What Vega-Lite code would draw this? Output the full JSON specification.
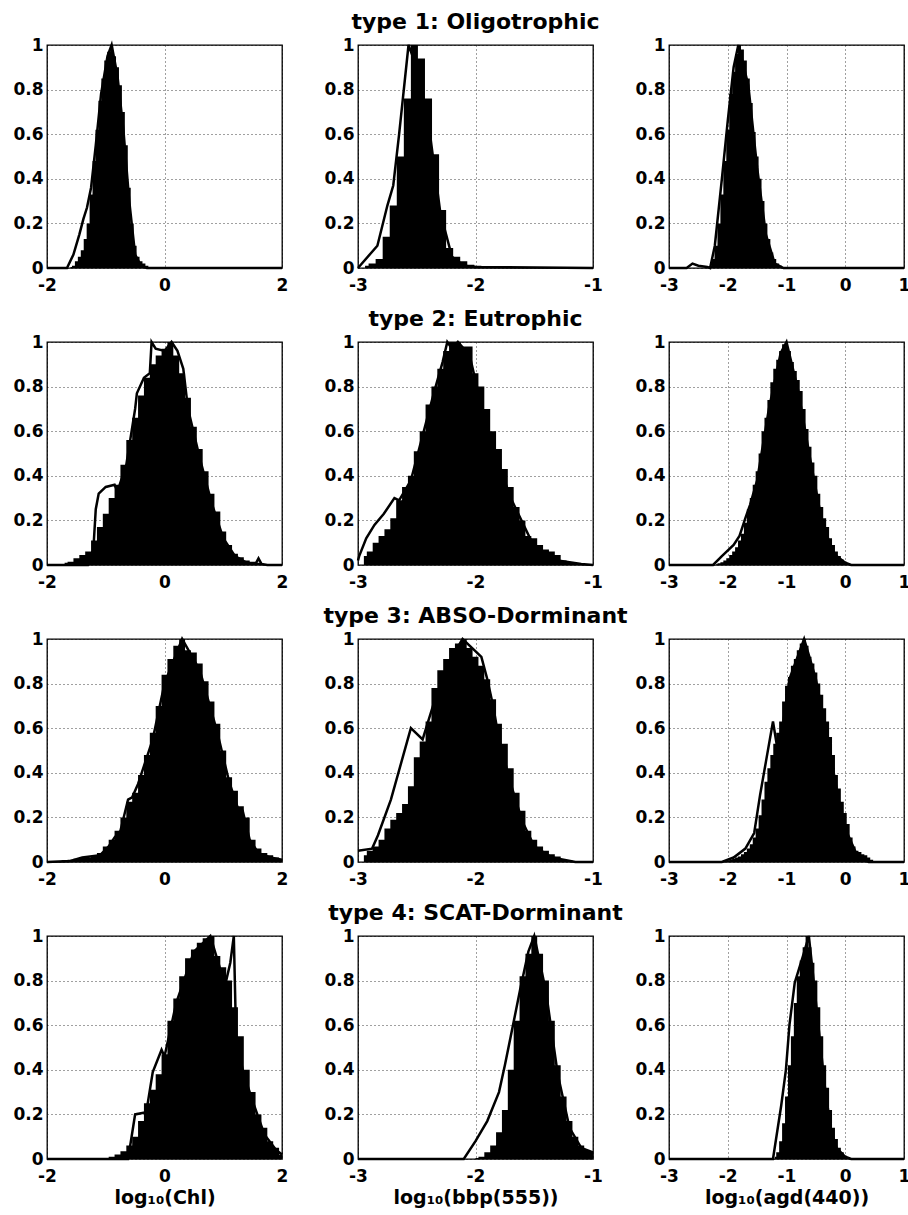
{
"$schema": "https://vega.github.io/schema/vega-lite/v6.json",
"background": "white",
"padding": {"left": 12, "top": 10, "right": 0, "bottom": 0},
"config": {
 "view": {"stroke": "black", "strokeWidth": 1.3},
 "font": "DejaVu Sans",
 "axis": {"grid": true, "gridColor": "black", "gridDash": [1, 3], "gridWidth": 1, "gridOpacity": 0.75, "domain": false, "ticks": false, "labelFont": "DejaVu Sans", "labelFontWeight": "bold", "labelFontSize": 17, "labelColor": "black", "labelFlush": false, "labelOverlap": false, "labelExpr": "'' + datum.value", "titleFont": "DejaVu Sans", "titleFontWeight": "bold", "titleFontSize": 19, "titleColor": "black"},
 "axisX": {"labelPadding": 9, "titlePadding": 4},
 "axisY": {"labelPadding": 4},
 "title": {"font": "DejaVu Sans", "fontWeight": "bold", "fontSize": 22, "color": "black", "offset": 2}
},
"datasets": {
"hist": [
{"p":"11","x":-1.60,"h":0.005},{"p":"11","x":-1.55,"h":0.01},{"p":"11","x":-1.50,"h":0.03},{"p":"11","x":-1.45,"h":0.05},{"p":"11","x":-1.40,"h":0.08},{"p":"11","x":-1.35,"h":0.13},{"p":"11","x":-1.30,"h":0.20},{"p":"11","x":-1.25,"h":0.33},{"p":"11","x":-1.20,"h":0.48},{"p":"11","x":-1.15,"h":0.62},{"p":"11","x":-1.10,"h":0.75},{"p":"11","x":-1.05,"h":0.85},{"p":"11","x":-1.00,"h":0.93},{"p":"11","x":-0.95,"h":0.97},{"p":"11","x":-0.90,"h":1.00},{"p":"11","x":-0.85,"h":0.95},{"p":"11","x":-0.80,"h":0.90},{"p":"11","x":-0.75,"h":0.82},{"p":"11","x":-0.70,"h":0.70},{"p":"11","x":-0.65,"h":0.55},{"p":"11","x":-0.60,"h":0.36},{"p":"11","x":-0.55,"h":0.20},{"p":"11","x":-0.50,"h":0.10},{"p":"11","x":-0.45,"h":0.05},{"p":"11","x":-0.40,"h":0.03},{"p":"11","x":-0.35,"h":0.02},{"p":"11","x":-0.30,"h":0.01},{"p":"11","x":-0.25,"h":0.005},{"p":"11","x":-0.20,"h":0.002},
{"p":"12","x":-2.94,"h":0.01},{"p":"12","x":-2.88,"h":0.02},{"p":"12","x":-2.82,"h":0.04},{"p":"12","x":-2.76,"h":0.14},{"p":"12","x":-2.70,"h":0.28},{"p":"12","x":-2.64,"h":0.50},{"p":"12","x":-2.58,"h":0.76},{"p":"12","x":-2.52,"h":1.00},{"p":"12","x":-2.46,"h":0.94},{"p":"12","x":-2.40,"h":0.76},{"p":"12","x":-2.34,"h":0.51},{"p":"12","x":-2.28,"h":0.26},{"p":"12","x":-2.22,"h":0.09},{"p":"12","x":-2.16,"h":0.05},{"p":"12","x":-2.10,"h":0.03},{"p":"12","x":-2.04,"h":0.015},{"p":"12","x":-1.98,"h":0.01},{"p":"12","x":-1.92,"h":0.008},{"p":"12","x":-1.86,"h":0.006},{"p":"12","x":-1.80,"h":0.005},{"p":"12","x":-1.50,"h":0.004},{"p":"12","x":-1.20,"h":0.004},{"p":"12","x":-1.02,"h":0.003},
{"p":"13","x":-2.30,"h":0.01},{"p":"13","x":-2.25,"h":0.04},{"p":"13","x":-2.20,"h":0.10},{"p":"13","x":-2.15,"h":0.20},{"p":"13","x":-2.10,"h":0.33},{"p":"13","x":-2.05,"h":0.48},{"p":"13","x":-2.00,"h":0.62},{"p":"13","x":-1.95,"h":0.78},{"p":"13","x":-1.90,"h":0.88},{"p":"13","x":-1.85,"h":0.96},{"p":"13","x":-1.80,"h":1.00},{"p":"13","x":-1.75,"h":0.98},{"p":"13","x":-1.70,"h":0.93},{"p":"13","x":-1.65,"h":0.85},{"p":"13","x":-1.60,"h":0.74},{"p":"13","x":-1.55,"h":0.61},{"p":"13","x":-1.50,"h":0.50},{"p":"13","x":-1.45,"h":0.40},{"p":"13","x":-1.40,"h":0.30},{"p":"13","x":-1.35,"h":0.20},{"p":"13","x":-1.30,"h":0.13},{"p":"13","x":-1.25,"h":0.07},{"p":"13","x":-1.20,"h":0.04},{"p":"13","x":-1.15,"h":0.02},{"p":"13","x":-1.10,"h":0.01},{"p":"13","x":-1.05,"h":0.005},{"p":"13","x":-1.00,"h":0.003},
{"p":"21","x":-1.7,"h":0.01},{"p":"21","x":-1.6,"h":0.015},{"p":"21","x":-1.5,"h":0.03},{"p":"21","x":-1.4,"h":0.045},{"p":"21","x":-1.3,"h":0.06},{"p":"21","x":-1.2,"h":0.11},{"p":"21","x":-1.1,"h":0.17},{"p":"21","x":-1.0,"h":0.23},{"p":"21","x":-0.9,"h":0.30},{"p":"21","x":-0.8,"h":0.36},{"p":"21","x":-0.7,"h":0.45},{"p":"21","x":-0.6,"h":0.56},{"p":"21","x":-0.5,"h":0.66},{"p":"21","x":-0.4,"h":0.76},{"p":"21","x":-0.3,"h":0.84},{"p":"21","x":-0.2,"h":0.90},{"p":"21","x":-0.1,"h":0.94},{"p":"21","x":0.0,"h":0.97},{"p":"21","x":0.1,"h":1.00},{"p":"21","x":0.2,"h":0.94},{"p":"21","x":0.3,"h":0.86},{"p":"21","x":0.4,"h":0.75},{"p":"21","x":0.5,"h":0.62},{"p":"21","x":0.6,"h":0.52},{"p":"21","x":0.7,"h":0.42},{"p":"21","x":0.8,"h":0.32},{"p":"21","x":0.9,"h":0.24},{"p":"21","x":1.0,"h":0.15},{"p":"21","x":1.1,"h":0.09},{"p":"21","x":1.2,"h":0.05},{"p":"21","x":1.3,"h":0.035},{"p":"21","x":1.4,"h":0.02},{"p":"21","x":1.5,"h":0.015},{"p":"21","x":1.6,"h":0.01},{"p":"21","x":1.7,"h":0.005},{"p":"21","x":1.8,"h":0.003},
{"p":"22","x":-2.95,"h":0.04},{"p":"22","x":-2.90,"h":0.06},{"p":"22","x":-2.85,"h":0.10},{"p":"22","x":-2.80,"h":0.13},{"p":"22","x":-2.75,"h":0.16},{"p":"22","x":-2.70,"h":0.21},{"p":"22","x":-2.65,"h":0.29},{"p":"22","x":-2.60,"h":0.35},{"p":"22","x":-2.55,"h":0.40},{"p":"22","x":-2.50,"h":0.51},{"p":"22","x":-2.45,"h":0.60},{"p":"22","x":-2.40,"h":0.72},{"p":"22","x":-2.35,"h":0.80},{"p":"22","x":-2.30,"h":0.88},{"p":"22","x":-2.25,"h":0.96},{"p":"22","x":-2.20,"h":1.00},{"p":"22","x":-2.15,"h":1.00},{"p":"22","x":-2.10,"h":0.98},{"p":"22","x":-2.05,"h":0.98},{"p":"22","x":-2.00,"h":0.86},{"p":"22","x":-1.95,"h":0.80},{"p":"22","x":-1.90,"h":0.70},{"p":"22","x":-1.85,"h":0.60},{"p":"22","x":-1.80,"h":0.52},{"p":"22","x":-1.75,"h":0.43},{"p":"22","x":-1.70,"h":0.35},{"p":"22","x":-1.65,"h":0.26},{"p":"22","x":-1.60,"h":0.20},{"p":"22","x":-1.55,"h":0.13},{"p":"22","x":-1.50,"h":0.12},{"p":"22","x":-1.45,"h":0.09},{"p":"22","x":-1.40,"h":0.07},{"p":"22","x":-1.35,"h":0.06},{"p":"22","x":-1.30,"h":0.045},{"p":"22","x":-1.25,"h":0.02},{"p":"22","x":-1.20,"h":0.01},{"p":"22","x":-1.15,"h":0.005},{"p":"22","x":-1.10,"h":0.005},{"p":"22","x":-1.05,"h":0.003},
{"p":"23","x":-2.20,"h":0.003},{"p":"23","x":-2.15,"h":0.008},{"p":"23","x":-2.10,"h":0.012},{"p":"23","x":-2.05,"h":0.02},{"p":"23","x":-2.00,"h":0.03},{"p":"23","x":-1.95,"h":0.045},{"p":"23","x":-1.90,"h":0.06},{"p":"23","x":-1.85,"h":0.08},{"p":"23","x":-1.80,"h":0.11},{"p":"23","x":-1.75,"h":0.14},{"p":"23","x":-1.70,"h":0.19},{"p":"23","x":-1.65,"h":0.25},{"p":"23","x":-1.60,"h":0.30},{"p":"23","x":-1.55,"h":0.36},{"p":"23","x":-1.50,"h":0.42},{"p":"23","x":-1.45,"h":0.50},{"p":"23","x":-1.40,"h":0.60},{"p":"23","x":-1.35,"h":0.66},{"p":"23","x":-1.30,"h":0.74},{"p":"23","x":-1.25,"h":0.82},{"p":"23","x":-1.20,"h":0.88},{"p":"23","x":-1.15,"h":0.92},{"p":"23","x":-1.10,"h":0.96},{"p":"23","x":-1.05,"h":0.99},{"p":"23","x":-1.00,"h":1.00},{"p":"23","x":-0.95,"h":0.96},{"p":"23","x":-0.90,"h":0.91},{"p":"23","x":-0.85,"h":0.87},{"p":"23","x":-0.80,"h":0.83},{"p":"23","x":-0.75,"h":0.78},{"p":"23","x":-0.70,"h":0.70},{"p":"23","x":-0.65,"h":0.61},{"p":"23","x":-0.60,"h":0.53},{"p":"23","x":-0.55,"h":0.46},{"p":"23","x":-0.50,"h":0.40},{"p":"23","x":-0.45,"h":0.32},{"p":"23","x":-0.40,"h":0.26},{"p":"23","x":-0.35,"h":0.21},{"p":"23","x":-0.30,"h":0.17},{"p":"23","x":-0.25,"h":0.12},{"p":"23","x":-0.20,"h":0.09},{"p":"23","x":-0.15,"h":0.06},{"p":"23","x":-0.10,"h":0.04},{"p":"23","x":-0.05,"h":0.025},{"p":"23","x":0.00,"h":0.015},{"p":"23","x":0.05,"h":0.008},{"p":"23","x":0.10,"h":0.004},{"p":"23","x":0.15,"h":0.002},
{"p":"31","x":-1.9,"h":0.005},{"p":"31","x":-1.8,"h":0.005},{"p":"31","x":-1.7,"h":0.008},{"p":"31","x":-1.6,"h":0.01},{"p":"31","x":-1.5,"h":0.015},{"p":"31","x":-1.4,"h":0.02},{"p":"31","x":-1.3,"h":0.02},{"p":"31","x":-1.2,"h":0.025},{"p":"31","x":-1.1,"h":0.04},{"p":"31","x":-1.0,"h":0.07},{"p":"31","x":-0.9,"h":0.10},{"p":"31","x":-0.8,"h":0.14},{"p":"31","x":-0.7,"h":0.20},{"p":"31","x":-0.6,"h":0.27},{"p":"31","x":-0.5,"h":0.31},{"p":"31","x":-0.4,"h":0.39},{"p":"31","x":-0.3,"h":0.48},{"p":"31","x":-0.2,"h":0.58},{"p":"31","x":-0.1,"h":0.70},{"p":"31","x":0.0,"h":0.84},{"p":"31","x":0.1,"h":0.91},{"p":"31","x":0.2,"h":0.97},{"p":"31","x":0.3,"h":1.00},{"p":"31","x":0.4,"h":0.95},{"p":"31","x":0.5,"h":0.94},{"p":"31","x":0.6,"h":0.89},{"p":"31","x":0.7,"h":0.81},{"p":"31","x":0.8,"h":0.72},{"p":"31","x":0.9,"h":0.62},{"p":"31","x":1.0,"h":0.50},{"p":"31","x":1.1,"h":0.38},{"p":"31","x":1.2,"h":0.32},{"p":"31","x":1.3,"h":0.25},{"p":"31","x":1.4,"h":0.20},{"p":"31","x":1.5,"h":0.10},{"p":"31","x":1.6,"h":0.06},{"p":"31","x":1.7,"h":0.04},{"p":"31","x":1.8,"h":0.03},{"p":"31","x":1.9,"h":0.02},{"p":"31","x":2.0,"h":0.01},
{"p":"32","x":-2.95,"h":0.03},{"p":"32","x":-2.90,"h":0.05},{"p":"32","x":-2.85,"h":0.07},{"p":"32","x":-2.80,"h":0.10},{"p":"32","x":-2.75,"h":0.15},{"p":"32","x":-2.70,"h":0.19},{"p":"32","x":-2.65,"h":0.22},{"p":"32","x":-2.60,"h":0.26},{"p":"32","x":-2.55,"h":0.34},{"p":"32","x":-2.50,"h":0.47},{"p":"32","x":-2.45,"h":0.54},{"p":"32","x":-2.40,"h":0.63},{"p":"32","x":-2.35,"h":0.78},{"p":"32","x":-2.30,"h":0.86},{"p":"32","x":-2.25,"h":0.91},{"p":"32","x":-2.20,"h":0.96},{"p":"32","x":-2.15,"h":0.98},{"p":"32","x":-2.10,"h":1.00},{"p":"32","x":-2.05,"h":0.96},{"p":"32","x":-2.00,"h":0.92},{"p":"32","x":-1.95,"h":0.88},{"p":"32","x":-1.90,"h":0.82},{"p":"32","x":-1.85,"h":0.73},{"p":"32","x":-1.80,"h":0.62},{"p":"32","x":-1.75,"h":0.53},{"p":"32","x":-1.70,"h":0.42},{"p":"32","x":-1.65,"h":0.31},{"p":"32","x":-1.60,"h":0.23},{"p":"32","x":-1.55,"h":0.14},{"p":"32","x":-1.50,"h":0.10},{"p":"32","x":-1.45,"h":0.07},{"p":"32","x":-1.40,"h":0.05},{"p":"32","x":-1.35,"h":0.035},{"p":"32","x":-1.30,"h":0.025},{"p":"32","x":-1.25,"h":0.012},{"p":"32","x":-1.20,"h":0.008},{"p":"32","x":-1.15,"h":0.005},{"p":"32","x":-1.10,"h":0.003},
{"p":"33","x":-2.05,"h":0.003},{"p":"33","x":-2.00,"h":0.006},{"p":"33","x":-1.95,"h":0.01},{"p":"33","x":-1.90,"h":0.015},{"p":"33","x":-1.85,"h":0.02},{"p":"33","x":-1.80,"h":0.025},{"p":"33","x":-1.75,"h":0.035},{"p":"33","x":-1.70,"h":0.045},{"p":"33","x":-1.65,"h":0.06},{"p":"33","x":-1.60,"h":0.08},{"p":"33","x":-1.55,"h":0.11},{"p":"33","x":-1.50,"h":0.15},{"p":"33","x":-1.45,"h":0.21},{"p":"33","x":-1.40,"h":0.28},{"p":"33","x":-1.35,"h":0.36},{"p":"33","x":-1.30,"h":0.42},{"p":"33","x":-1.25,"h":0.48},{"p":"33","x":-1.20,"h":0.53},{"p":"33","x":-1.15,"h":0.58},{"p":"33","x":-1.10,"h":0.63},{"p":"33","x":-1.05,"h":0.72},{"p":"33","x":-1.00,"h":0.79},{"p":"33","x":-0.95,"h":0.83},{"p":"33","x":-0.90,"h":0.88},{"p":"33","x":-0.85,"h":0.91},{"p":"33","x":-0.80,"h":0.95},{"p":"33","x":-0.75,"h":0.98},{"p":"33","x":-0.70,"h":1.00},{"p":"33","x":-0.65,"h":0.97},{"p":"33","x":-0.60,"h":0.92},{"p":"33","x":-0.55,"h":0.89},{"p":"33","x":-0.50,"h":0.85},{"p":"33","x":-0.45,"h":0.80},{"p":"33","x":-0.40,"h":0.75},{"p":"33","x":-0.35,"h":0.69},{"p":"33","x":-0.30,"h":0.63},{"p":"33","x":-0.25,"h":0.56},{"p":"33","x":-0.20,"h":0.48},{"p":"33","x":-0.15,"h":0.39},{"p":"33","x":-0.10,"h":0.33},{"p":"33","x":-0.05,"h":0.27},{"p":"33","x":0.00,"h":0.22},{"p":"33","x":0.05,"h":0.17},{"p":"33","x":0.10,"h":0.11},{"p":"33","x":0.15,"h":0.07},{"p":"33","x":0.20,"h":0.05},{"p":"33","x":0.25,"h":0.045},{"p":"33","x":0.30,"h":0.035},{"p":"33","x":0.35,"h":0.03},{"p":"33","x":0.40,"h":0.02},{"p":"33","x":0.45,"h":0.01},{"p":"33","x":0.50,"h":0.005},
{"p":"41","x":-1.0,"h":0.005},{"p":"41","x":-0.9,"h":0.01},{"p":"41","x":-0.8,"h":0.02},{"p":"41","x":-0.7,"h":0.035},{"p":"41","x":-0.6,"h":0.06},{"p":"41","x":-0.5,"h":0.10},{"p":"41","x":-0.4,"h":0.17},{"p":"41","x":-0.3,"h":0.25},{"p":"41","x":-0.2,"h":0.31},{"p":"41","x":-0.1,"h":0.38},{"p":"41","x":0.0,"h":0.47},{"p":"41","x":0.1,"h":0.62},{"p":"41","x":0.2,"h":0.72},{"p":"41","x":0.3,"h":0.82},{"p":"41","x":0.4,"h":0.90},{"p":"41","x":0.5,"h":0.94},{"p":"41","x":0.6,"h":0.97},{"p":"41","x":0.7,"h":0.99},{"p":"41","x":0.8,"h":1.00},{"p":"41","x":0.9,"h":0.91},{"p":"41","x":1.0,"h":0.86},{"p":"41","x":1.1,"h":0.80},{"p":"41","x":1.2,"h":0.68},{"p":"41","x":1.3,"h":0.55},{"p":"41","x":1.4,"h":0.40},{"p":"41","x":1.5,"h":0.30},{"p":"41","x":1.6,"h":0.20},{"p":"41","x":1.7,"h":0.14},{"p":"41","x":1.8,"h":0.08},{"p":"41","x":1.9,"h":0.05},{"p":"41","x":2.0,"h":0.02},
{"p":"42","x":-2.00,"h":0.005},{"p":"42","x":-1.95,"h":0.01},{"p":"42","x":-1.90,"h":0.03},{"p":"42","x":-1.85,"h":0.06},{"p":"42","x":-1.80,"h":0.12},{"p":"42","x":-1.75,"h":0.22},{"p":"42","x":-1.70,"h":0.40},{"p":"42","x":-1.65,"h":0.62},{"p":"42","x":-1.60,"h":0.82},{"p":"42","x":-1.55,"h":0.92},{"p":"42","x":-1.50,"h":1.00},{"p":"42","x":-1.45,"h":0.92},{"p":"42","x":-1.40,"h":0.80},{"p":"42","x":-1.35,"h":0.62},{"p":"42","x":-1.30,"h":0.42},{"p":"42","x":-1.25,"h":0.28},{"p":"42","x":-1.20,"h":0.17},{"p":"42","x":-1.15,"h":0.10},{"p":"42","x":-1.10,"h":0.06},{"p":"42","x":-1.05,"h":0.04},{"p":"42","x":-1.00,"h":0.035},
{"p":"43","x":-1.20,"h":0.01},{"p":"43","x":-1.15,"h":0.03},{"p":"43","x":-1.10,"h":0.08},{"p":"43","x":-1.05,"h":0.16},{"p":"43","x":-1.00,"h":0.28},{"p":"43","x":-0.95,"h":0.42},{"p":"43","x":-0.90,"h":0.55},{"p":"43","x":-0.85,"h":0.70},{"p":"43","x":-0.80,"h":0.82},{"p":"43","x":-0.75,"h":0.89},{"p":"43","x":-0.70,"h":0.95},{"p":"43","x":-0.65,"h":1.00},{"p":"43","x":-0.60,"h":0.95},{"p":"43","x":-0.55,"h":0.88},{"p":"43","x":-0.50,"h":0.80},{"p":"43","x":-0.45,"h":0.68},{"p":"43","x":-0.40,"h":0.55},{"p":"43","x":-0.35,"h":0.42},{"p":"43","x":-0.30,"h":0.32},{"p":"43","x":-0.25,"h":0.22},{"p":"43","x":-0.20,"h":0.14},{"p":"43","x":-0.15,"h":0.09},{"p":"43","x":-0.10,"h":0.05},{"p":"43","x":-0.05,"h":0.03},{"p":"43","x":0.00,"h":0.015},{"p":"43","x":0.05,"h":0.005}
],
"line": [
{"p":"11","x":-2,"y":0},{"p":"11","x":-1.66,"y":0},{"p":"11","x":-1.55,"y":0.06},{"p":"11","x":-1.45,"y":0.15},{"p":"11","x":-1.38,"y":0.22},{"p":"11","x":-1.32,"y":0.27},{"p":"11","x":-1.25,"y":0.36},{"p":"11","x":-1.17,"y":0.55},{"p":"11","x":-1.08,"y":0.78},{"p":"11","x":-0.97,"y":0.95},{"p":"11","x":-0.9,"y":1.0},{"p":"11","x":-0.8,"y":0.86},{"p":"11","x":-0.7,"y":0.62},{"p":"11","x":-0.6,"y":0.3},{"p":"11","x":-0.5,"y":0.06},{"p":"11","x":-0.4,"y":0.01},{"p":"11","x":-0.3,"y":0},{"p":"11","x":2,"y":0},
{"p":"12","x":-3,"y":0},{"p":"12","x":-2.835,"y":0.10},{"p":"12","x":-2.75,"y":0.28},{"p":"12","x":-2.70,"y":0.37},{"p":"12","x":-2.65,"y":0.6},{"p":"12","x":-2.57,"y":1.0},{"p":"12","x":-2.5,"y":0.9},{"p":"12","x":-2.4,"y":0.65},{"p":"12","x":-2.3,"y":0.25},{"p":"12","x":-2.2,"y":0.05},{"p":"12","x":-2.1,"y":0.01},{"p":"12","x":-2.0,"y":0.005},{"p":"12","x":-1,"y":0},
{"p":"13","x":-3,"y":0},{"p":"13","x":-2.7,"y":0},{"p":"13","x":-2.6,"y":0.02},{"p":"13","x":-2.5,"y":0.01},{"p":"13","x":-2.35,"y":0.005},{"p":"13","x":-2.30,"y":0},{"p":"13","x":-2.22,"y":0.10},{"p":"13","x":-2.10,"y":0.40},{"p":"13","x":-2.00,"y":0.66},{"p":"13","x":-1.90,"y":0.90},{"p":"13","x":-1.82,"y":1.0},{"p":"13","x":-1.65,"y":0.82},{"p":"13","x":-1.5,"y":0.45},{"p":"13","x":-1.35,"y":0.15},{"p":"13","x":-1.2,"y":0.02},{"p":"13","x":-1.05,"y":0},{"p":"13","x":1,"y":0},
{"p":"21","x":-2,"y":0},{"p":"21","x":-1.3,"y":0},{"p":"21","x":-1.22,"y":0.03},{"p":"21","x":-1.17,"y":0.25},{"p":"21","x":-1.12,"y":0.32},{"p":"21","x":-1.0,"y":0.35},{"p":"21","x":-0.85,"y":0.36},{"p":"21","x":-0.8,"y":0.33},{"p":"21","x":-0.65,"y":0.45},{"p":"21","x":-0.5,"y":0.70},{"p":"21","x":-0.47,"y":0.77},{"p":"21","x":-0.35,"y":0.84},{"p":"21","x":-0.25,"y":0.86},{"p":"21","x":-0.22,"y":1.0},{"p":"21","x":-0.15,"y":0.97},{"p":"21","x":0.0,"y":0.96},{"p":"21","x":0.12,"y":1.0},{"p":"21","x":0.22,"y":0.96},{"p":"21","x":0.32,"y":0.88},{"p":"21","x":0.4,"y":0.70},{"p":"21","x":0.6,"y":0.48},{"p":"21","x":0.8,"y":0.28},{"p":"21","x":1.0,"y":0.12},{"p":"21","x":1.2,"y":0.04},{"p":"21","x":1.4,"y":0.01},{"p":"21","x":1.55,"y":0.005},{"p":"21","x":1.6,"y":0.03},{"p":"21","x":1.65,"y":0.005},{"p":"21","x":1.75,"y":0},{"p":"21","x":2,"y":0},
{"p":"22","x":-3,"y":0.02},{"p":"22","x":-2.99,"y":0.04},{"p":"22","x":-2.93,"y":0.12},{"p":"22","x":-2.86,"y":0.18},{"p":"22","x":-2.78,"y":0.23},{"p":"22","x":-2.69,"y":0.30},{"p":"22","x":-2.65,"y":0.29},{"p":"22","x":-2.55,"y":0.38},{"p":"22","x":-2.45,"y":0.58},{"p":"22","x":-2.35,"y":0.78},{"p":"22","x":-2.28,"y":0.91},{"p":"22","x":-2.24,"y":1.0},{"p":"22","x":-2.2,"y":0.97},{"p":"22","x":-2.15,"y":1.0},{"p":"22","x":-2.05,"y":0.94},{"p":"22","x":-1.9,"y":0.6},{"p":"22","x":-1.7,"y":0.3},{"p":"22","x":-1.5,"y":0.08},{"p":"22","x":-1.3,"y":0.02},{"p":"22","x":-1.1,"y":0.005},{"p":"22","x":-1,"y":0},
{"p":"23","x":-3,"y":0},{"p":"23","x":-2.25,"y":0},{"p":"23","x":-2.1,"y":0.04},{"p":"23","x":-1.9,"y":0.09},{"p":"23","x":-1.8,"y":0.13},{"p":"23","x":-1.7,"y":0.21},{"p":"23","x":-1.62,"y":0.27},{"p":"23","x":-1.5,"y":0.38},{"p":"23","x":-1.3,"y":0.7},{"p":"23","x":-1.1,"y":0.95},{"p":"23","x":-1.0,"y":1.0},{"p":"23","x":-0.8,"y":0.78},{"p":"23","x":-0.6,"y":0.48},{"p":"23","x":-0.4,"y":0.2},{"p":"23","x":-0.2,"y":0.05},{"p":"23","x":0,"y":0.01},{"p":"23","x":0.1,"y":0},{"p":"23","x":1,"y":0},
{"p":"31","x":-2,"y":0},{"p":"31","x":-1.6,"y":0.005},{"p":"31","x":-1.4,"y":0.02},{"p":"31","x":-1.1,"y":0.03},{"p":"31","x":-0.95,"y":0.07},{"p":"31","x":-0.85,"y":0.11},{"p":"31","x":-0.75,"y":0.14},{"p":"31","x":-0.62,"y":0.28},{"p":"31","x":-0.55,"y":0.29},{"p":"31","x":-0.45,"y":0.35},{"p":"31","x":-0.2,"y":0.55},{"p":"31","x":0.0,"y":0.8},{"p":"31","x":0.3,"y":1.0},{"p":"31","x":0.6,"y":0.86},{"p":"31","x":0.9,"y":0.58},{"p":"31","x":1.1,"y":0.36},{"p":"31","x":1.25,"y":0.24},{"p":"31","x":1.33,"y":0.23},{"p":"31","x":1.45,"y":0.10},{"p":"31","x":1.6,"y":0.04},{"p":"31","x":1.8,"y":0.02},{"p":"31","x":2,"y":0.01},
{"p":"32","x":-3,"y":0.05},{"p":"32","x":-2.88,"y":0.06},{"p":"32","x":-2.83,"y":0.12},{"p":"32","x":-2.72,"y":0.28},{"p":"32","x":-2.55,"y":0.60},{"p":"32","x":-2.45,"y":0.55},{"p":"32","x":-2.35,"y":0.72},{"p":"32","x":-2.2,"y":0.92},{"p":"32","x":-2.11,"y":1.0},{"p":"32","x":-2.01,"y":0.95},{"p":"32","x":-1.95,"y":0.92},{"p":"32","x":-1.9,"y":0.82},{"p":"32","x":-1.85,"y":0.70},{"p":"32","x":-1.8,"y":0.55},{"p":"32","x":-1.7,"y":0.35},{"p":"32","x":-1.6,"y":0.18},{"p":"32","x":-1.5,"y":0.07},{"p":"32","x":-1.35,"y":0.02},{"p":"32","x":-1.15,"y":0},{"p":"32","x":-1,"y":0},
{"p":"33","x":-3,"y":0},{"p":"33","x":-2.1,"y":0},{"p":"33","x":-1.9,"y":0.02},{"p":"33","x":-1.7,"y":0.06},{"p":"33","x":-1.55,"y":0.13},{"p":"33","x":-1.45,"y":0.30},{"p":"33","x":-1.35,"y":0.45},{"p":"33","x":-1.23,"y":0.63},{"p":"33","x":-1.15,"y":0.50},{"p":"33","x":-1.08,"y":0.58},{"p":"33","x":-0.95,"y":0.82},{"p":"33","x":-0.7,"y":1.0},{"p":"33","x":-0.5,"y":0.82},{"p":"33","x":-0.3,"y":0.55},{"p":"33","x":-0.1,"y":0.26},{"p":"33","x":0.0,"y":0.15},{"p":"33","x":0.2,"y":0.03},{"p":"33","x":0.4,"y":0},{"p":"33","x":1,"y":0},
{"p":"41","x":-2,"y":0},{"p":"41","x":-0.62,"y":0},{"p":"41","x":-0.56,"y":0.10},{"p":"41","x":-0.50,"y":0.20},{"p":"41","x":-0.31,"y":0.21},{"p":"41","x":-0.20,"y":0.39},{"p":"41","x":-0.05,"y":0.49},{"p":"41","x":0.0,"y":0.46},{"p":"41","x":0.2,"y":0.7},{"p":"41","x":0.5,"y":0.93},{"p":"41","x":0.78,"y":1.0},{"p":"41","x":0.95,"y":0.85},{"p":"41","x":1.05,"y":0.80},{"p":"41","x":1.12,"y":0.88},{"p":"41","x":1.18,"y":1.0},{"p":"41","x":1.22,"y":0.53},{"p":"41","x":1.35,"y":0.38},{"p":"41","x":1.5,"y":0.26},{"p":"41","x":1.7,"y":0.11},{"p":"41","x":1.9,"y":0.04},{"p":"41","x":2,"y":0.02},
{"p":"42","x":-3,"y":0},{"p":"42","x":-2.10,"y":0},{"p":"42","x":-2.0,"y":0.08},{"p":"42","x":-1.9,"y":0.17},{"p":"42","x":-1.8,"y":0.30},{"p":"42","x":-1.75,"y":0.42},{"p":"42","x":-1.7,"y":0.55},{"p":"42","x":-1.62,"y":0.76},{"p":"42","x":-1.55,"y":0.93},{"p":"42","x":-1.5,"y":1.0},{"p":"42","x":-1.4,"y":0.75},{"p":"42","x":-1.3,"y":0.38},{"p":"42","x":-1.2,"y":0.14},{"p":"42","x":-1.1,"y":0.05},{"p":"42","x":-1,"y":0.03},
{"p":"43","x":-3,"y":0},{"p":"43","x":-1.23,"y":0},{"p":"43","x":-1.09,"y":0.24},{"p":"43","x":-1.01,"y":0.40},{"p":"43","x":-0.95,"y":0.6},{"p":"43","x":-0.86,"y":0.79},{"p":"43","x":-0.72,"y":0.91},{"p":"43","x":-0.62,"y":1.0},{"p":"43","x":-0.55,"y":0.83},{"p":"43","x":-0.45,"y":0.58},{"p":"43","x":-0.35,"y":0.33},{"p":"43","x":-0.25,"y":0.14},{"p":"43","x":-0.15,"y":0.05},{"p":"43","x":0,"y":0.01},{"p":"43","x":0.1,"y":0},{"p":"43","x":1,"y":0}
]
},
"columns": 3,
"spacing": {"row": 74, "column": 76},
"bounds": "flush",
"concat": [
{"width":235,"height":223,"layer":[
 {"data":{"name":"hist"},"transform":[{"filter":"datum.p=='11'"}],"mark":{"type":"area","interpolate":"step","color":"black"},
  "encoding":{"x":{"field":"x","type":"quantitative","title":null,"scale":{"domain":[-2,2],"nice":false,"zero":false},"axis":{"values":[-2,0,2]}},
   "y":{"field":"h","type":"quantitative","title":null,"scale":{"domain":[0,1],"nice":false},"axis":{"values":[0,0.2,0.4,0.6,0.8,1]}}}},
 {"data":{"name":"line"},"transform":[{"filter":"datum.p=='11'"}],"mark":{"type":"line","color":"black","strokeWidth":2.5},
  "encoding":{"x":{"field":"x","type":"quantitative","title":null},"y":{"field":"y","type":"quantitative","title":null}}}]},
{"width":235,"height":223,"title":"type 1: Oligotrophic","layer":[
 {"data":{"name":"hist"},"transform":[{"filter":"datum.p=='12'"}],"mark":{"type":"area","interpolate":"step","color":"black"},
  "encoding":{"x":{"field":"x","type":"quantitative","title":null,"scale":{"domain":[-3,-1],"nice":false,"zero":false},"axis":{"values":[-3,-2,-1]}},
   "y":{"field":"h","type":"quantitative","title":null,"scale":{"domain":[0,1],"nice":false},"axis":{"values":[0,0.2,0.4,0.6,0.8,1]}}}},
 {"data":{"name":"line"},"transform":[{"filter":"datum.p=='12'"}],"mark":{"type":"line","color":"black","strokeWidth":2.5},
  "encoding":{"x":{"field":"x","type":"quantitative","title":null},"y":{"field":"y","type":"quantitative","title":null}}}]},
{"width":235,"height":223,"layer":[
 {"data":{"name":"hist"},"transform":[{"filter":"datum.p=='13'"}],"mark":{"type":"area","interpolate":"step","color":"black"},
  "encoding":{"x":{"field":"x","type":"quantitative","title":null,"scale":{"domain":[-3,1],"nice":false,"zero":false},"axis":{"values":[-3,-2,-1,0,1]}},
   "y":{"field":"h","type":"quantitative","title":null,"scale":{"domain":[0,1],"nice":false},"axis":{"values":[0,0.2,0.4,0.6,0.8,1]}}}},
 {"data":{"name":"line"},"transform":[{"filter":"datum.p=='13'"}],"mark":{"type":"line","color":"black","strokeWidth":2.5},
  "encoding":{"x":{"field":"x","type":"quantitative","title":null},"y":{"field":"y","type":"quantitative","title":null}}}]},
{"width":235,"height":223,"layer":[
 {"data":{"name":"hist"},"transform":[{"filter":"datum.p=='21'"}],"mark":{"type":"area","interpolate":"step","color":"black"},
  "encoding":{"x":{"field":"x","type":"quantitative","title":null,"scale":{"domain":[-2,2],"nice":false,"zero":false},"axis":{"values":[-2,0,2]}},
   "y":{"field":"h","type":"quantitative","title":null,"scale":{"domain":[0,1],"nice":false},"axis":{"values":[0,0.2,0.4,0.6,0.8,1]}}}},
 {"data":{"name":"line"},"transform":[{"filter":"datum.p=='21'"}],"mark":{"type":"line","color":"black","strokeWidth":2.5},
  "encoding":{"x":{"field":"x","type":"quantitative","title":null},"y":{"field":"y","type":"quantitative","title":null}}}]},
{"width":235,"height":223,"title":"type 2: Eutrophic","layer":[
 {"data":{"name":"hist"},"transform":[{"filter":"datum.p=='22'"}],"mark":{"type":"area","interpolate":"step","color":"black"},
  "encoding":{"x":{"field":"x","type":"quantitative","title":null,"scale":{"domain":[-3,-1],"nice":false,"zero":false},"axis":{"values":[-3,-2,-1]}},
   "y":{"field":"h","type":"quantitative","title":null,"scale":{"domain":[0,1],"nice":false},"axis":{"values":[0,0.2,0.4,0.6,0.8,1]}}}},
 {"data":{"name":"line"},"transform":[{"filter":"datum.p=='22'"}],"mark":{"type":"line","color":"black","strokeWidth":2.5},
  "encoding":{"x":{"field":"x","type":"quantitative","title":null},"y":{"field":"y","type":"quantitative","title":null}}}]},
{"width":235,"height":223,"layer":[
 {"data":{"name":"hist"},"transform":[{"filter":"datum.p=='23'"}],"mark":{"type":"area","interpolate":"step","color":"black"},
  "encoding":{"x":{"field":"x","type":"quantitative","title":null,"scale":{"domain":[-3,1],"nice":false,"zero":false},"axis":{"values":[-3,-2,-1,0,1]}},
   "y":{"field":"h","type":"quantitative","title":null,"scale":{"domain":[0,1],"nice":false},"axis":{"values":[0,0.2,0.4,0.6,0.8,1]}}}},
 {"data":{"name":"line"},"transform":[{"filter":"datum.p=='23'"}],"mark":{"type":"line","color":"black","strokeWidth":2.5},
  "encoding":{"x":{"field":"x","type":"quantitative","title":null},"y":{"field":"y","type":"quantitative","title":null}}}]},
{"width":235,"height":223,"layer":[
 {"data":{"name":"hist"},"transform":[{"filter":"datum.p=='31'"}],"mark":{"type":"area","interpolate":"step","color":"black"},
  "encoding":{"x":{"field":"x","type":"quantitative","title":null,"scale":{"domain":[-2,2],"nice":false,"zero":false},"axis":{"values":[-2,0,2]}},
   "y":{"field":"h","type":"quantitative","title":null,"scale":{"domain":[0,1],"nice":false},"axis":{"values":[0,0.2,0.4,0.6,0.8,1]}}}},
 {"data":{"name":"line"},"transform":[{"filter":"datum.p=='31'"}],"mark":{"type":"line","color":"black","strokeWidth":2.5},
  "encoding":{"x":{"field":"x","type":"quantitative","title":null},"y":{"field":"y","type":"quantitative","title":null}}}]},
{"width":235,"height":223,"title":"type 3: ABSO-Dorminant","layer":[
 {"data":{"name":"hist"},"transform":[{"filter":"datum.p=='32'"}],"mark":{"type":"area","interpolate":"step","color":"black"},
  "encoding":{"x":{"field":"x","type":"quantitative","title":null,"scale":{"domain":[-3,-1],"nice":false,"zero":false},"axis":{"values":[-3,-2,-1]}},
   "y":{"field":"h","type":"quantitative","title":null,"scale":{"domain":[0,1],"nice":false},"axis":{"values":[0,0.2,0.4,0.6,0.8,1]}}}},
 {"data":{"name":"line"},"transform":[{"filter":"datum.p=='32'"}],"mark":{"type":"line","color":"black","strokeWidth":2.5},
  "encoding":{"x":{"field":"x","type":"quantitative","title":null},"y":{"field":"y","type":"quantitative","title":null}}}]},
{"width":235,"height":223,"layer":[
 {"data":{"name":"hist"},"transform":[{"filter":"datum.p=='33'"}],"mark":{"type":"area","interpolate":"step","color":"black"},
  "encoding":{"x":{"field":"x","type":"quantitative","title":null,"scale":{"domain":[-3,1],"nice":false,"zero":false},"axis":{"values":[-3,-2,-1,0,1]}},
   "y":{"field":"h","type":"quantitative","title":null,"scale":{"domain":[0,1],"nice":false},"axis":{"values":[0,0.2,0.4,0.6,0.8,1]}}}},
 {"data":{"name":"line"},"transform":[{"filter":"datum.p=='33'"}],"mark":{"type":"line","color":"black","strokeWidth":2.5},
  "encoding":{"x":{"field":"x","type":"quantitative","title":null},"y":{"field":"y","type":"quantitative","title":null}}}]},
{"width":235,"height":223,"layer":[
 {"data":{"name":"hist"},"transform":[{"filter":"datum.p=='41'"}],"mark":{"type":"area","interpolate":"step","color":"black"},
  "encoding":{"x":{"field":"x","type":"quantitative","title":"log₁₀(Chl)","scale":{"domain":[-2,2],"nice":false,"zero":false},"axis":{"values":[-2,0,2],"title":"log₁₀(Chl)"}},
   "y":{"field":"h","type":"quantitative","title":null,"scale":{"domain":[0,1],"nice":false},"axis":{"values":[0,0.2,0.4,0.6,0.8,1]}}}},
 {"data":{"name":"line"},"transform":[{"filter":"datum.p=='41'"}],"mark":{"type":"line","color":"black","strokeWidth":2.5},
  "encoding":{"x":{"field":"x","type":"quantitative","title":"log₁₀(Chl)"},"y":{"field":"y","type":"quantitative","title":null}}}]},
{"width":235,"height":223,"title":"type 4: SCAT-Dorminant","layer":[
 {"data":{"name":"hist"},"transform":[{"filter":"datum.p=='42'"}],"mark":{"type":"area","interpolate":"step","color":"black"},
  "encoding":{"x":{"field":"x","type":"quantitative","title":"log₁₀(bbp(555))","scale":{"domain":[-3,-1],"nice":false,"zero":false},"axis":{"values":[-3,-2,-1],"title":"log₁₀(bbp(555))"}},
   "y":{"field":"h","type":"quantitative","title":null,"scale":{"domain":[0,1],"nice":false},"axis":{"values":[0,0.2,0.4,0.6,0.8,1]}}}},
 {"data":{"name":"line"},"transform":[{"filter":"datum.p=='42'"}],"mark":{"type":"line","color":"black","strokeWidth":2.5},
  "encoding":{"x":{"field":"x","type":"quantitative","title":"log₁₀(bbp(555))"},"y":{"field":"y","type":"quantitative","title":null}}}]},
{"width":235,"height":223,"layer":[
 {"data":{"name":"hist"},"transform":[{"filter":"datum.p=='43'"}],"mark":{"type":"area","interpolate":"step","color":"black"},
  "encoding":{"x":{"field":"x","type":"quantitative","title":"log₁₀(agd(440))","scale":{"domain":[-3,1],"nice":false,"zero":false},"axis":{"values":[-3,-2,-1,0,1],"title":"log₁₀(agd(440))"}},
   "y":{"field":"h","type":"quantitative","title":null,"scale":{"domain":[0,1],"nice":false},"axis":{"values":[0,0.2,0.4,0.6,0.8,1]}}}},
 {"data":{"name":"line"},"transform":[{"filter":"datum.p=='43'"}],"mark":{"type":"line","color":"black","strokeWidth":2.5},
  "encoding":{"x":{"field":"x","type":"quantitative","title":"log₁₀(agd(440))"},"y":{"field":"y","type":"quantitative","title":null}}}]}
]
}
